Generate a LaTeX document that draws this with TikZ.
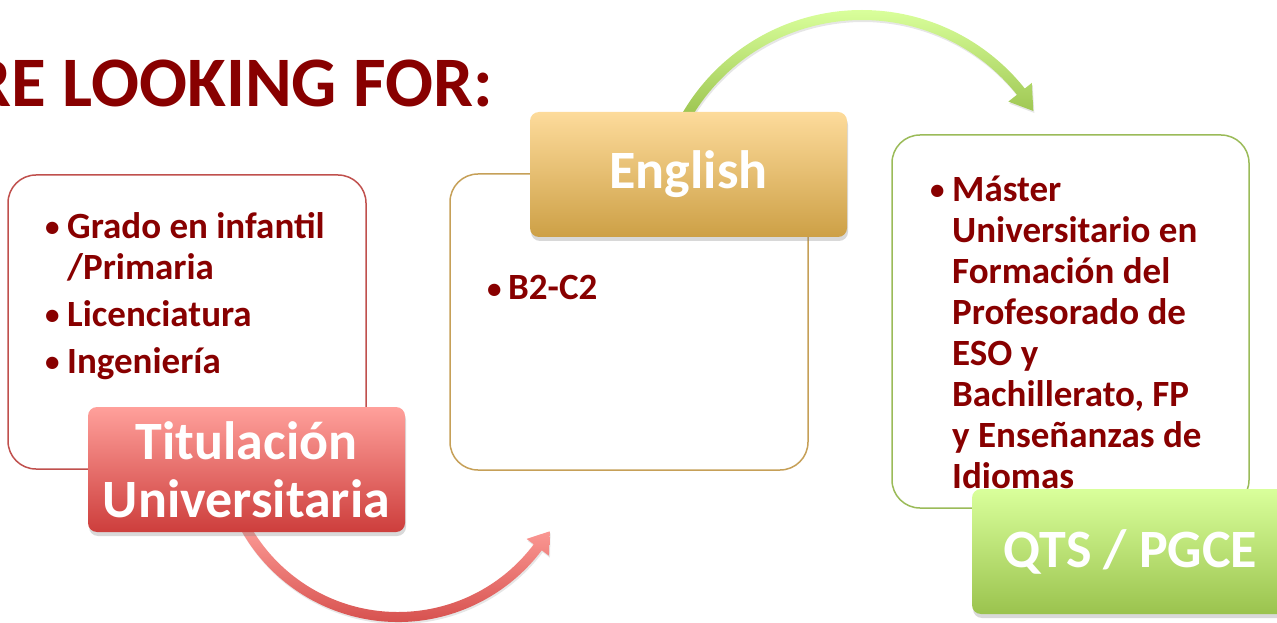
\documentclass[tikz,border=0pt]{standalone}
\usepackage{fontspec}
\setmainfont{Carlito}
\usetikzlibrary{shadows}
\definecolor{txtred}{RGB}{136,0,0}
\definecolor{redline}{RGB}{192,80,77}
\definecolor{goldline}{RGB}{198,160,88}
\definecolor{greenline}{RGB}{155,187,89}
\definecolor{redtop}{RGB}{255,160,155}
\definecolor{redbot}{RGB}{205,62,60}
\definecolor{goldtop}{RGB}{253,219,155}
\definecolor{goldbot}{RGB}{205,160,70}
\definecolor{greentop}{RGB}{217,255,155}
\definecolor{greenbot}{RGB}{155,195,78}
\newcommand{\dotitem}{\raisebox{2pt}{\fontsize{29}{29}\selectfont\textbullet}}
\begin{document}
\begin{tikzpicture}[x=1pt,y=1pt,
  roundbox/.style={draw=#1, line width=1.5pt, rounded corners=28pt, fill=white},
  tag/.style={rounded corners=9pt, text=white, align=center,
    font=\fontsize{54}{58}\selectfont\bfseries,
    minimum width=317pt, minimum height=125pt,
    drop shadow={shadow xshift=1pt,shadow yshift=-4pt,opacity=.3}},
  items/.style={anchor=base west, inner sep=0pt, text=txtred,
    font=\fontsize{37}{41}\selectfont\bfseries}]
\useasboundingbox (0,0) rectangle (1277,622);
% heading
\node[anchor=base east, inner sep=0pt, text=txtred,
  font=\fontsize{71}{80}\selectfont\bfseries] (title) at (493,515) {RE LOOKING FOR:};
% frames
\node[roundbox=redline, minimum width=358pt, minimum height=294pt] (titbox) at (187,300) {};
\node[roundbox=goldline, minimum width=358pt, minimum height=296pt] (engbox) at (629,300) {};
\node[roundbox=greenline, minimum width=357pt, minimum height=373pt] (qtsbox) at (1070.5,300.5) {};
% items
\node[items] (titems) at (45,383) {\begin{tabular}[t]{@{}p{22pt}@{}l@{}}
\dotitem & Grado en infantil\\ & /Primaria\\[6pt]
\dotitem & Licenciatura\\[6pt]
\dotitem & Ingeniería\end{tabular}};
\node[items] (eitems) at (487,322) {\begin{tabular}[t]{@{}p{21pt}@{}l@{}}
\dotitem & B2-C2\end{tabular}};
\node[items] (qitems) at (930,420) {\begin{tabular}[t]{@{}p{22pt}@{}l@{}}
\dotitem & Máster\\ & Universitario en\\ & Formación del\\
 & Profesorado de\\ & ESO y\\ & Bachillerato, FP\\
 & y Enseñanzas de\\ & Idiomas\end{tabular}};
% curved arrows
\shade[top color=redtop, bottom color=redbot, shift={(398,180)},
  drop shadow={shadow xshift=1pt,shadow yshift=-2pt,opacity=.2}]
  (207:180) arc[start angle=207,end angle=323,radius=180] -- (323:189)
  -- (329.5:176) -- (323:161) -- (323:170)
  arc[start angle=323,end angle=207,radius=170] -- cycle;
\shade[top color=greentop, bottom color=greenbot, shift={(862,404)},
  drop shadow={shadow xshift=1pt,shadow yshift=-2pt,opacity=.2}]
  (150:208) arc[start angle=150,end angle=38.5,radius=208] -- (38.5:217)
  -- (32:202) -- (38.5:187) -- (38.5:198)
  arc[start angle=38.5,end angle=150,radius=198] -- cycle;
% labels
\node[tag, top color=redtop, bottom color=redbot] (titlabel) at (246.5,152.5) {Titulación\\Universitaria};
\node[tag, top color=goldtop, bottom color=goldbot] (englabel) at (688.5,447.5) {English};
\node[tag, top color=greentop, bottom color=greenbot] (qtslabel) at (1130.5,70.5) {QTS / PGCE};
\end{tikzpicture}
\end{document}
